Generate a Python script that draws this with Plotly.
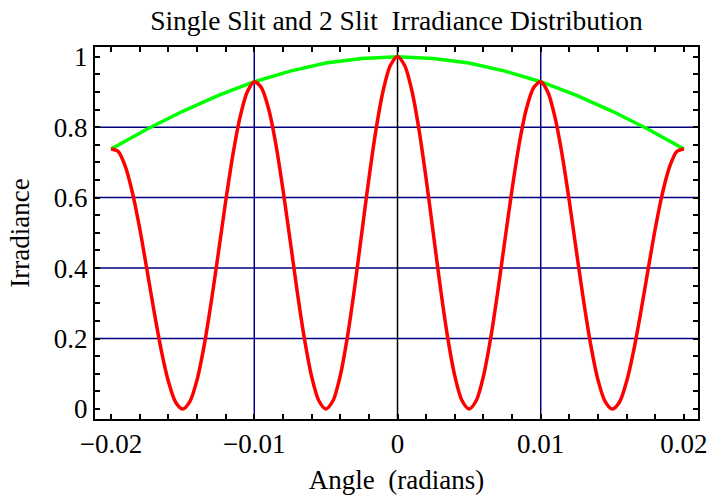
import plotly.graph_objects as go

# Angle samples (radians) for the 2-slit curve
angle = [-0.0200, -0.0195, -0.0190, -0.0185, -0.0180, -0.0175, -0.0170, -0.0165, -0.0160, -0.0155,
         -0.0150, -0.0145, -0.0140, -0.0135, -0.0130, -0.0125, -0.0120, -0.0115, -0.0110, -0.0105,
         -0.0100, -0.0095, -0.0090, -0.0085, -0.0080, -0.0075, -0.0070, -0.0065, -0.0060, -0.0055,
         -0.0050, -0.0045, -0.0040, -0.0035, -0.0030, -0.0025, -0.0020, -0.0015, -0.0010, -0.0005,
         0.0000,
         0.0005, 0.0010, 0.0015, 0.0020, 0.0025, 0.0030, 0.0035, 0.0040, 0.0045, 0.0050,
         0.0055, 0.0060, 0.0065, 0.0070, 0.0075, 0.0080, 0.0085, 0.0090, 0.0095, 0.0100,
         0.0105, 0.0110, 0.0115, 0.0120, 0.0125, 0.0130, 0.0135, 0.0140, 0.0145, 0.0150,
         0.0155, 0.0160, 0.0165, 0.0170, 0.0175, 0.0180, 0.0185, 0.0190, 0.0195, 0.0200]
double_slit = [0.738, 0.731, 0.688, 0.613, 0.513, 0.397, 0.278, 0.168, 0.079, 0.020,
               0.000, 0.021, 0.082, 0.180, 0.305, 0.445, 0.588, 0.720, 0.827, 0.899,
               0.929, 0.912, 0.852, 0.753, 0.624, 0.480, 0.333, 0.200, 0.093, 0.024,
               0.000, 0.024, 0.094, 0.204, 0.343, 0.498, 0.653, 0.793, 0.904, 0.975,
               1.000,
               0.975, 0.904, 0.793, 0.653, 0.498, 0.343, 0.204, 0.094, 0.024, 0.000,
               0.024, 0.093, 0.200, 0.333, 0.480, 0.624, 0.753, 0.852, 0.912, 0.929,
               0.899, 0.827, 0.720, 0.588, 0.445, 0.305, 0.180, 0.082, 0.021, 0.000,
               0.020, 0.079, 0.168, 0.278, 0.397, 0.513, 0.613, 0.688, 0.731, 0.738]

# Single slit envelope
env_angle = [-0.020, -0.0175, -0.015, -0.0125, -0.010, -0.0075, -0.005, -0.0025, 0.0,
             0.0025, 0.005, 0.0075, 0.010, 0.0125, 0.015, 0.0175, 0.020]
single_slit = [0.738, 0.794, 0.845, 0.890, 0.929, 0.959, 0.982, 0.995, 1.0,
               0.995, 0.982, 0.959, 0.929, 0.890, 0.845, 0.794, 0.738]

grid_x = [-0.01, 0.01]
grid_y = [0.2, 0.4, 0.6, 0.8]

title_text = "Single Slit and 2 Slit\u00a0 Irradiance Distribution"
x_title = "Angle\u00a0 (radians)"
y_title = "Irradiance"

FONT = "Liberation Serif, Times New Roman, serif"
NAVY = "#000080"

fig = go.Figure()
fig.add_trace(go.Scatter(x=env_angle, y=single_slit, mode="lines",
                         line=dict(color="#00FF00", width=3.5), hoverinfo="skip"))
fig.add_trace(go.Scatter(x=angle, y=double_slit, mode="lines",
                         line=dict(color="#FF0000", width=3.5, shape="spline", smoothing=0.8),
                         hoverinfo="skip"))

shapes = []
for gx in grid_x:
    shapes.append(dict(type="line", xref="x", yref="paper", x0=gx, x1=gx, y0=0, y1=1,
                       line=dict(color=NAVY, width=1.5), layer="below"))
for gy in grid_y:
    shapes.append(dict(type="line", xref="paper", yref="y", x0=0, x1=1, y0=gy, y1=gy,
                       line=dict(color=NAVY, width=1.5), layer="below"))
shapes.append(dict(type="line", xref="x", yref="paper", x0=0, x1=0, y0=0, y1=1,
                   line=dict(color="black", width=1.5), layer="below"))

fig.update_layout(
    width=711, height=495,
    margin=dict(l=95, r=13, t=47, b=76, autoexpand=False),
    paper_bgcolor="white", plot_bgcolor="white",
    showlegend=False,
    shapes=shapes,
    font=dict(family=FONT, color="black", size=27),
    title=dict(text=title_text, x=0.5, xref="paper", xanchor="center",
               y=1 - 20 / 495, yanchor="middle", automargin=False,
               font=dict(family=FONT, size=27.5, color="black")),
    xaxis=dict(range=[-0.02112, 0.02098], tick0=0, dtick=0.01, automargin=False,
               showgrid=False, zeroline=False,
               showline=True, linecolor="black", linewidth=2, mirror="ticks",
               ticks="inside", ticklen=5, tickwidth=1.5, tickcolor="black",
               minor=dict(dtick=0.002, tick0=0, ticks="inside", ticklen=5,
                          tickwidth=1.5, tickcolor="black", showgrid=False),
               tickfont=dict(family=FONT, size=27, color="black"),
               title=dict(text=x_title, font=dict(family=FONT, size=27, color="black"),
                          standoff=12)),
    yaxis=dict(range=[-0.0284, 1.0275], tick0=0, dtick=0.2, automargin=False,
               showgrid=False, zeroline=False,
               showline=True, linecolor="black", linewidth=2, mirror="ticks",
               ticks="inside", ticklen=5, tickwidth=1.5, tickcolor="black",
               minor=dict(dtick=0.05, tick0=0, ticks="inside", ticklen=5,
                          tickwidth=1.5, tickcolor="black", showgrid=False),
               tickfont=dict(family=FONT, size=27, color="black"),
               title=dict(text=y_title, font=dict(family=FONT, size=27, color="black"),
                          standoff=16)),
)

fig.write_html("out.html", config={"displayModeBar": False},
               post_script="document.body.style.margin='0';")
